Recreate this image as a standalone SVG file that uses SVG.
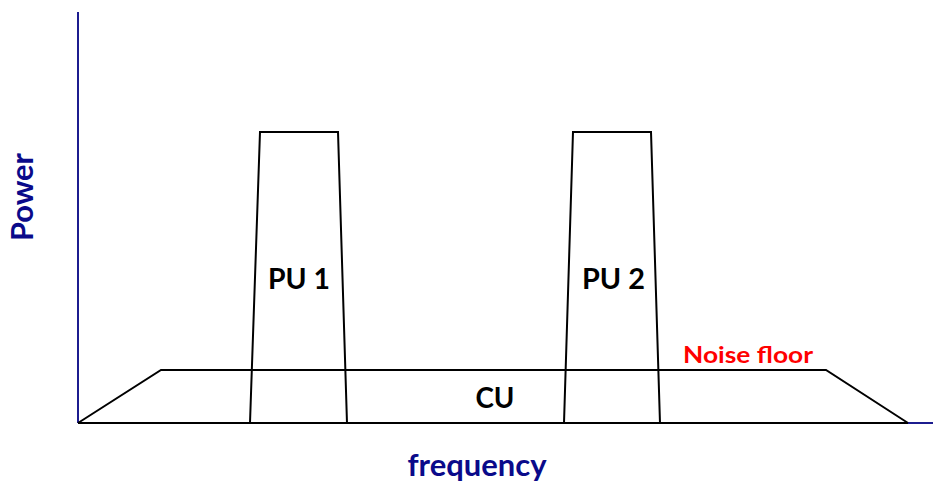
<svg xmlns="http://www.w3.org/2000/svg" width="933" height="487" viewBox="0 0 933 487">
  <style>
    .axis { stroke: #1c1c8f; stroke-width: 2; fill: none; }
    .shape { stroke: #000; stroke-width: 2; fill: none; stroke-linejoin: miter; }
    .lbl { font-family: Lato, "Open Sans", sans-serif; font-weight: bold; fill: #000; font-size: 29px; }
    .axlbl { font-family: Lato, "Open Sans", sans-serif; font-weight: bold; fill: #0a0a8a; font-size: 30px; }
    .noise { font-family: Lato, "Open Sans", sans-serif; font-weight: bold; fill: #ff0000; font-size: 23px; }
  </style>
  <rect width="933" height="487" fill="#fff"/>

  <g id="axes">
    <line class="axis" x1="78" y1="12" x2="78" y2="423"/>
    <line class="axis" x1="78" y1="423" x2="933" y2="423"/>
    <text class="axlbl" transform="translate(33,197) rotate(-90)" text-anchor="middle" textLength="88" lengthAdjust="spacingAndGlyphs">Power</text>
    <text class="axlbl" x="477" y="476" text-anchor="middle" textLength="139" lengthAdjust="spacingAndGlyphs">frequency</text>
  </g>

  <g id="cu">
    <polyline class="shape" points="78,423 161,370 826,370 908,423"/>
    <line class="shape" x1="78" y1="423" x2="908" y2="423"/>
    <text class="lbl" x="495" y="408" text-anchor="middle" textLength="39" lengthAdjust="spacingAndGlyphs">CU</text>
  </g>

  <g id="pu1">
    <polyline class="shape" points="250,423 260,132 338,132 347,423"/>
    <text class="lbl" x="299" y="289" text-anchor="middle" textLength="62" lengthAdjust="spacingAndGlyphs">PU 1</text>
  </g>

  <g id="pu2">
    <polyline class="shape" points="564,423 573,132 651,132 660,423"/>
    <text class="lbl" x="613.5" y="289" text-anchor="middle" textLength="63" lengthAdjust="spacingAndGlyphs">PU 2</text>
  </g>

  <g id="noise-floor">
    <text class="noise" x="748" y="363" text-anchor="middle" textLength="130" lengthAdjust="spacingAndGlyphs">Noise floor</text>
  </g>
</svg>
